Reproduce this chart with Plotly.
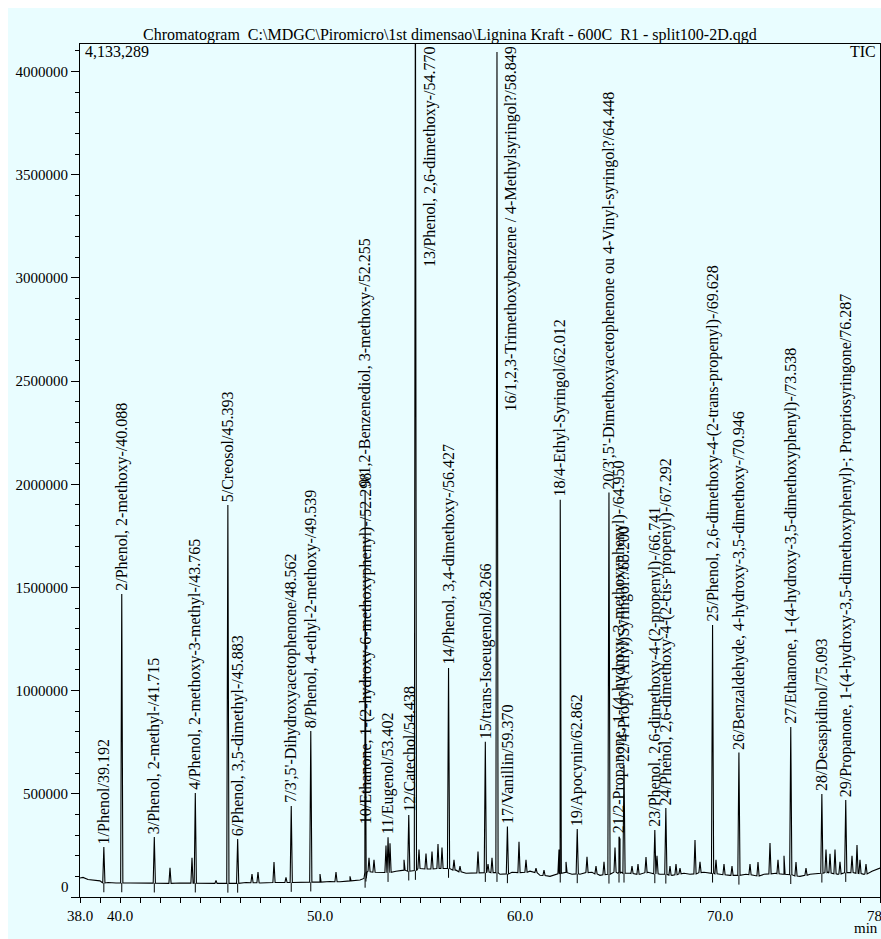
import plotly.graph_objects as go

# ---------------- data ----------------
# baseline of the TIC trace (time in min, intensity in counts)
base_t = [38.0, 38.15, 38.4, 38.7, 39.0, 39.4, 39.8, 40.5, 41.0, 41.5, 42.0, 43.0, 44.0, 44.5,
          45.0, 46.3, 47.0, 48.0, 49.0, 50.0, 50.5, 51.0, 51.5, 52.0, 52.15, 52.4, 52.8, 53.2,
          53.8, 54.2, 55.0, 55.5, 56.0, 56.8, 57.3, 57.8, 58.5, 59.0, 59.6, 60.5, 61.0, 61.5,
          62.3, 62.6, 63.0, 63.6, 64.0, 64.7, 65.5, 66.0, 66.4, 67.0, 67.6, 68.2, 68.5, 69.2,
          70.0, 70.5, 71.3, 71.8, 72.2, 72.8, 73.2, 74.0, 74.5, 75.4, 75.9, 76.5, 77.2, 77.6, 78.0]
base_y = [92000, 95000, 85000, 80000, 78000, 70000, 68000, 68000, 66000, 67000, 66000, 68000, 67000, 66000,
          66000, 70000, 68000, 70000, 72000, 72000, 75000, 74000, 78000, 82000, 90000, 125000, 120000, 118000,
          125000, 130000, 140000, 135000, 140000, 130000, 115000, 118000, 120000, 110000, 120000, 125000, 105000, 100000,
          120000, 110000, 110000, 120000, 105000, 125000, 115000, 110000, 120000, 110000, 105000, 115000, 110000, 120000,
          110000, 105000, 110000, 100000, 110000, 115000, 110000, 100000, 110000, 120000, 110000, 120000, 110000, 125000, 140000]

# small unlabeled peaks
minor_t = [42.5, 43.6, 44.8, 46.6, 46.9, 47.7, 48.3, 50.0, 50.8, 51.5, 52.45, 52.7, 53.3, 53.5,
           54.2, 54.95, 55.3, 55.6, 55.9, 56.1, 56.7, 57.0, 57.9, 58.4, 58.6, 59.95, 60.3, 60.8,
           61.2, 61.95, 62.3, 63.35, 63.8, 64.2, 64.75, 65.0, 65.6, 65.9, 66.3, 66.85, 67.5, 67.8,
           68.0, 68.75, 69.0, 69.8, 70.2, 70.6, 71.5, 71.9, 72.5, 72.9, 73.2, 73.8, 74.3, 75.3,
           75.5, 75.75, 76.0, 76.6, 76.85, 77.0, 77.3]
minor_h = [141000, 190000, 80000, 111000, 121000, 170000, 95000, 111000, 121000, 100000, 190000, 180000, 250000, 260000,
           180000, 230000, 210000, 220000, 257000, 240000, 180000, 150000, 220000, 160000, 190000, 268000, 180000, 140000,
           130000, 230000, 170000, 195000, 150000, 170000, 240000, 280000, 150000, 160000, 194000, 200000, 150000, 160000,
           140000, 276000, 170000, 180000, 160000, 150000, 160000, 170000, 262000, 180000, 200000, 170000, 140000, 230000,
           210000, 230000, 170000, 200000, 252000, 180000, 160000]
minor_foot = [66000, 67000, 66000, 69000, 69000, 70000, 70000, 72000, 74000, 78000, 122000, 120000, 119000, 120000,
              130000, 138000, 136000, 136000, 138000, 138000, 130000, 122000, 117000, 120000, 118000, 118000, 120000, 118000,
              104000, 112000, 118000, 118000, 112000, 108000, 120000, 120000, 114000, 110000, 118000, 112000, 106000, 108000,
              112000, 112000, 118000, 112000, 108000, 105000, 108000, 102000, 112000, 113000, 110000, 102000, 105000, 118000,
              116000, 112000, 112000, 118000, 115000, 114000, 112000]

# labeled peaks
peak_no = list(range(1, 30))
peak_name = [
    "Phenol", "Phenol, 2-methoxy-", "Phenol, 2-methyl-", "Phenol, 2-methoxy-3-methyl-", "Creosol",
    "Phenol, 3,5-dimethyl-", "3',5'-Dihydroxyacetophenone", "Phenol, 4-ethyl-2-methoxy-",
    "1,2-Benzenediol, 3-methoxy-", "Ethanone, 1-(2-hydroxy-6-methoxyphenyl)-", "Eugenol", "Catechol",
    "Phenol, 2,6-dimethoxy-", "Phenol, 3,4-dimethoxy-", "trans-Isoeugenol",
    "1,2,3-Trimethoxybenzene / 4-Methylsyringol?", "Vanillin", "4-Ethyl-Syringol", "Apocynin",
    "3',5'-Dimethoxyacetophenone ou 4-Vinyl-syringol?", "2-Propanone, 1-(4-hydroxy-3-methoxyphenyl)-",
    "4-Propyl-(Allyl)Syringol?", "Phenol, 2,6-dimethoxy-4-(2-propenyl)-",
    "Phenol, 2,6-dimethoxy-4-(2-cis- propenyl)-", "Phenol, 2,6-dimethoxy-4-(2-trans-propenyl)-",
    "Benzaldehyde, 4-hydroxy-3,5-dimethoxy-", "Ethanone, 1-(4-hydroxy-3,5-dimethoxyphenyl)-",
    "Desaspidinol", "Propanone, 1-(4-hydroxy-3,5-dimethoxyphenyl)-; Propriosyringone"]
peak_t = [39.192, 40.088, 41.715, 43.765, 45.393, 45.883, 48.562, 49.539, 52.255, 52.298,
          53.402, 54.438, 54.770, 56.427, 58.266, 58.849, 59.370, 62.012, 62.862, 64.448,
          64.950, 65.200, 66.741, 67.292, 69.628, 70.946, 73.538, 75.093, 76.287]
peak_h = [242000, 1468000, 291000, 504000, 1900000, 281000, 441000, 804000, 1970000, 340000,
          290000, 397000, 4600000, 1110000, 752000, 4095000, 341000, 1925000, 330000, 1960000,
          292000, 640000, 325000, 431000, 1318000, 700000, 824000, 499000, 470000]
peak_foot = [68000, 68000, 67000, 67000, 66000, 66000, 70000, 72000, 90000, 120000,
             118000, 125000, 128000, 138000, 118000, 118000, 112000, 115000, 112000, 110000,
             115000, 115000, 112000, 110000, 115000, 105000, 108000, 115000, 118000]
# peaks whose label is set beside the peak, hung from the top of the frame
side_label_t = {13: 55.5, 16: 59.5}

x_ticks = [38, 40, 50, 60, 70, 78]
x_ticktext = ["38.0", "40.0", "50.0", "60.0", "70.0", "78.0"]
y_ticks = [0, 500000, 1000000, 1500000, 2000000, 2500000, 3000000, 3500000, 4000000]
y_max = 4133289

# ---------------- build the trace ----------------
W = 0.055
pts = list(zip(base_t, base_y))
for t, h, f in zip(minor_t, minor_h, minor_foot):
    pts += [(t - W, f), (t, h), (t + W, f)]
for t, h, f in zip(peak_t, peak_h, peak_foot):
    pts += [(t - W, f), (t, h), (t + W, f)]
pts.sort(key=lambda p: p[0])
xs = [p[0] for p in pts]
ys = [p[1] for p in pts]

fig = go.Figure()
fig.add_trace(go.Scatter(x=xs, y=ys, mode="lines", line=dict(color="black", width=1.1),
                         hoverinfo="skip", showlegend=False))

# little downward ticks marking each identified peak
tx, ty = [], []
for t, f in zip(peak_t, peak_foot):
    tx += [t, t, None]
    ty += [f, f - 45000, None]
fig.add_trace(go.Scatter(x=tx, y=ty, mode="lines", line=dict(color="black", width=1),
                         hoverinfo="skip", showlegend=False))

FONT = "Liberation Serif, Times New Roman, serif"
LBL = 16
ann = []
for no, name, t, h in zip(peak_no, peak_name, peak_t, peak_h):
    txt = f"{no}/{name}/{t:.3f}"
    if no in side_label_t:
        ann.append(dict(x=side_label_t[no], y=1.0, xref="x", yref="paper", text=txt,
                        textangle=-90, showarrow=False, xanchor="center", yanchor="top",
                        yshift=-1, font=dict(family=FONT, size=LBL, color="black")))
    else:
        ann.append(dict(x=t, y=h, xref="x", yref="y", text=txt, textangle=-90,
                        showarrow=False, xanchor="center", yanchor="bottom", yshift=1,
                        font=dict(family=FONT, size=LBL, color="black")))

# plot area: window pixels x 80..880, y 44..897
PH = 853.0
PW = 800.0
ann.append(dict(x=(450 - 80) / PW, y=(897 - 35) / PH, xref="paper", yref="paper",
                text="Chromatogram  C:\\MDGC\\Piromicro\\1st dimensao\\Lignina Kraft - 600C  R1 - split100-2D.qgd",
                showarrow=False, xanchor="center", yanchor="middle",
                font=dict(family=FONT, size=16, color="black")))
ann.append(dict(x=0.004, y=(897 - 52) / PH, xref="paper", yref="paper", text="4,133,289",
                showarrow=False, xanchor="left", yanchor="middle",
                font=dict(family=FONT, size=16, color="black")))
ann.append(dict(x=0.997, y=(897 - 52) / PH, xref="paper", yref="paper", text="TIC",
                showarrow=False, xanchor="right", yanchor="middle",
                font=dict(family=FONT, size=16, color="black")))
ann.append(dict(x=(866 - 80) / PW, y=(897 - 928) / PH, xref="paper", yref="paper", text="min",
                showarrow=False, xanchor="center", yanchor="middle",
                font=dict(family=FONT, size=15, color="black")))
ann.append(dict(x=(71 - 80) / PW, y=(897 - 887) / PH, xref="paper", yref="paper", text="0",
                showarrow=False, xanchor="right", yanchor="middle",
                font=dict(family=FONT, size=15, color="black")))

CYAN = "#e9fdff"
fig.update_layout(
    width=881, height=939,
    margin=dict(l=80, r=1, t=44, b=42),
    paper_bgcolor="white", plot_bgcolor=CYAN,
    annotations=ann,
    shapes=[dict(type="rect", xref="paper", yref="paper",
                 x0=(8 - 80) / PW, x1=(895 - 80) / PW, y0=(897 - 950) / PH, y1=(897 - 8) / PH,
                 fillcolor=CYAN, line=dict(width=0), layer="below")],
    xaxis=dict(range=[38, 78], tickmode="array", tickvals=x_ticks, ticktext=x_ticktext,
               automargin=False, ticklabeloverflow="allow",
               ticks="outside", ticklen=5, tickcolor="black", tickwidth=1,
               minor=dict(tickmode="linear", tick0=38, dtick=1, ticks="outside", ticklen=5,
                          tickcolor="black", tickwidth=1),
               showline=True, linecolor="black", linewidth=1.2, mirror=True,
               showgrid=False, zeroline=False,
               tickfont=dict(family=FONT, size=15, color="black")),
    yaxis=dict(range=[0, y_max], tickmode="array", tickvals=y_ticks,
               ticktext=[""] + [str(v) for v in y_ticks[1:]],
               automargin=False,
               ticks="outside", ticklen=8, tickcolor="black", tickwidth=1,
               minor=dict(tickmode="linear", tick0=0, dtick=100000, ticks="outside", ticklen=4,
                          tickcolor="black", tickwidth=1),
               showline=True, linecolor="black", linewidth=1.2, mirror=True,
               showgrid=False, zeroline=False,
               tickfont=dict(family=FONT, size=15, color="black")),
)

fig.write_html("out.html", config={"displayModeBar": False},
               post_script="document.body.style.margin='0';"
                           "document.documentElement.style.overflow='hidden';")
